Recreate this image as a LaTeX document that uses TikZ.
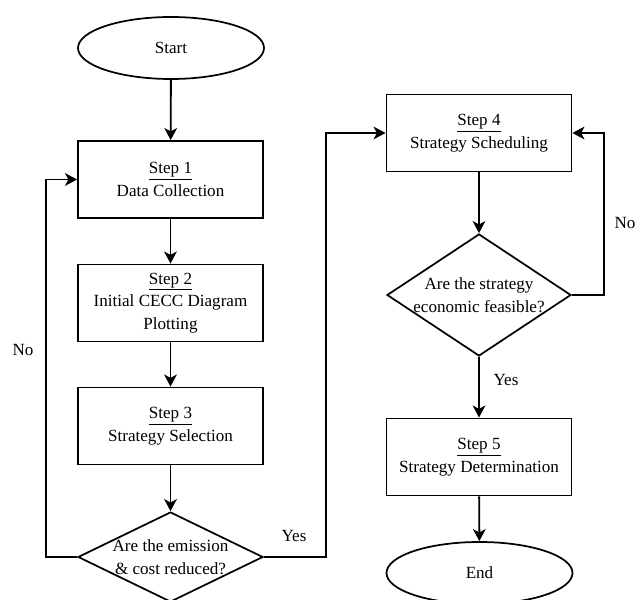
\documentclass[tikz,border=0pt]{standalone}
\usepackage{fontspec}
\setmainfont{Liberation Serif}
\usetikzlibrary{shapes.geometric,arrows.meta}

\begin{document}
\begin{tikzpicture}[x=0.75pt,y=0.75pt,
    font=\fontsize{12.8}{17}\selectfont,
    terminal/.style ={ellipse, draw, line width=1.3pt, inner sep=0pt, minimum width=139.5pt, minimum height=46.5pt},
    process/.style ={rectangle, draw, line width=1.4pt, inner sep=0pt, align=center, minimum width=138.75pt, minimum height=57.75pt},
    decision/.style ={diamond, draw, line width=1.3pt, inner sep=-3pt, align=center},
    flow/.style ={line width=1.4pt, -{Stealth[length=9pt,width=9.5pt,inset=2.5pt]}}]
   \useasboundingbox (0,0) rectangle (636,600);

   \node[terminal] (start) at (171,552) {Start};
   \node[process] (s1) at (170.5,420.5) {\underline{Step 1}\\Data Collection};
   \node[process] (s2) at (170.5,297) {\underline{Step 2}\\Initial CECC Diagram\\Plotting};
   \node[process] (s3) at (170.5,174) {\underline{Step 3}\\Strategy Selection};
   \node[decision, aspect=2.05, minimum width=138.75pt, minimum height=67.5pt] (dec1) at (170.5,43) {Are the emission\\\& cost reduced?};

   \node[process] (s4) at (479,467) {\underline{Step 4}\\Strategy Scheduling};
   \node[decision, aspect=1.5, minimum width=138pt, minimum height=91.5pt] (dec2) at (479,305) {Are the strategy\\economic feasible?};
   \node[process] (s5) at (479,143) {\underline{Step 5}\\Strategy Determination};
   \node[terminal] (end) at (479.5,27) {End};

   \node (no1) at (23,250) {No};
   \node (yes1) at (294,64) {Yes};
   \node (no2) at (625,377) {No};
   \node (yes2) at (506,220) {Yes};

   \draw[flow] (start) to (s1);
   \draw[flow] (s1) to (s2);
   \draw[flow] (s2) to (s3);
   \draw[flow] (s3) to (dec1);
   \draw[flow] (dec1.west) -- ++(-31,0) |- (s1.west);
   \draw[flow] (dec1.east) -- ++(62,0) |- (s4.west);
   \draw[flow] (s4) to (dec2);
   \draw[flow] (dec2.east) -- ++(32,0) |- (s4.east);
   \draw[flow] (dec2) to (s5);
   \draw[flow] (s5) to (end);
\end{tikzpicture}
\end{document}
